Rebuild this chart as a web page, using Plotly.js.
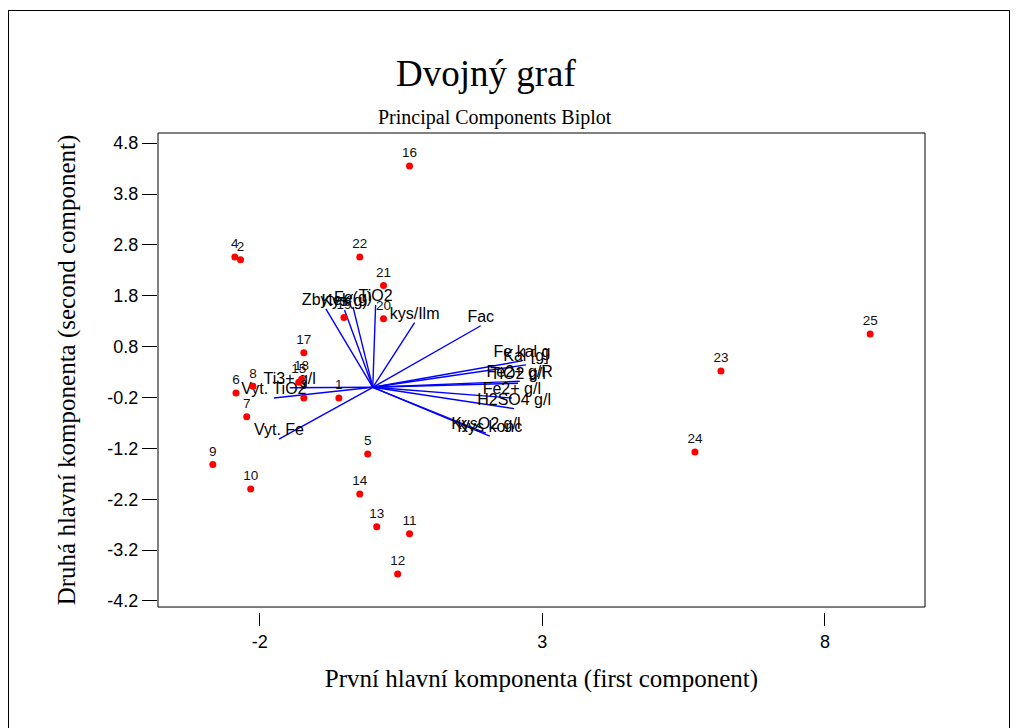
<!DOCTYPE html>
<html>
<head>
<meta charset="utf-8">
<script src="https://cdn.plot.ly/plotly-3.0.1.min.js"></script>
<style>
  html, body { margin: 0; padding: 0; background: #fff; }
  #wrap { position: relative; width: 1016px; height: 728px; overflow: hidden; }
  #chart { width: 1016px; height: 728px; }
  #border { position: absolute; left: 8px; top: 10px; width: 1002px; height: 740px;
            border: 1px solid #000; pointer-events: none; box-sizing: border-box; }
</style>
</head>
<body>
<div id="wrap">
  <div id="chart"></div>
  <div id="border"></div>
</div>
<script>
// Observation scores (first and second principal component)
const obsLabels = ["1","2","3","4","5","6","7","8","9","10","11","12","13","14","15","16","17","18","19","20","21","22","23","24","25"];
const obsPC1 = [-0.60,-2.34,-1.22,-2.44,-0.09,-2.42,-2.23,-2.12,-2.83,-2.16,0.65,0.44,0.07,-0.23,-1.31,0.65,-1.22,-1.26,-0.51,0.19,0.19,-0.23,6.16,5.70,8.80];
const obsPC2 = [-0.21,2.51,-0.21,2.56,-1.31,-0.11,-0.58,0.02,-1.52,-2.00,-2.88,-3.67,-2.74,-2.10,0.10,4.35,0.68,0.16,1.37,1.35,2.00,2.56,0.32,-1.27,1.05];

// Variable loadings (vector end points)
const varNames = ["Zbytek","Kys(g)","Fe(g)","TiO2","kys/Ilm","Fac","Fe kal g","Kal [g]","Fe2+ g/R","TiO2 g/l","Fe2+ g/l","H2SO4 g/l","Kys konc","KysO2 g/l","Ti3+ g/l","Vyt. TiO2","Vyt. Fe"];
const varPC1 = [-0.83,-0.50,-0.35,0.05,0.74,1.91,2.64,2.71,2.60,2.57,2.46,2.50,2.07,2.00,-1.47,-1.75,-1.66];
const varPC2 = [1.54,1.52,1.58,1.62,1.27,1.21,0.52,0.44,0.12,0.08,-0.21,-0.42,-0.96,-0.90,-0.01,-0.21,-1.02];

const xTicks = [-2, 3, 8];
const yTicks = [4.8, 3.8, 2.8, 1.8, 0.8, -0.2, -1.2, -2.2, -3.2, -4.2];

const vx = [], vy = [];
for (let i = 0; i < varNames.length; i++) {
  vx.push(0, varPC1[i], null);
  vy.push(0, varPC2[i], null);
}

const sans = '"Liberation Sans Narrow", "Liberation Sans", Arial, sans-serif';
const serif = '"Liberation Serif", "Times New Roman", serif';

const traces = [
  {
    type: 'scatter', mode: 'lines', x: vx, y: vy,
    line: { color: '#0000ff', width: 1.4 }, hoverinfo: 'skip', showlegend: false
  },
  {
    type: 'scatter', mode: 'text', x: varPC1, y: varPC2, text: varNames,
    textposition: 'top center', textfont: { family: sans, size: 16, color: '#000' },
    showlegend: false, cliponaxis: false
  },
  {
    type: 'scatter', mode: 'markers+text', x: obsPC1, y: obsPC2, text: obsLabels,
    textposition: 'top center', textfont: { family: sans, size: 13.5, color: '#111' },
    marker: { color: '#ff0000', size: 7 }, showlegend: false, cliponaxis: false
  }
];

const layout = {
  width: 1016, height: 728,
  margin: { l: 158, r: 91, t: 133, b: 116 },
  paper_bgcolor: '#fff', plot_bgcolor: '#fff',
  showlegend: false,
  xaxis: {
    range: [-3.8, 9.77], tickvals: xTicks, ticktext: xTicks.map(String),
    ticks: 'outside', ticklen: 13, tickwidth: 1, tickcolor: '#000',
    showgrid: false, zeroline: false, showline: false,
    anchor: 'free', position: 0,
    tickfont: { family: sans, size: 18, color: '#000' },
    title: { text: 'První hlavní komponenta (first component)', font: { family: serif, size: 25, color: '#000' }, standoff: 18 }
  },
  yaxis: {
    range: [-4.32, 5.0], domain: [0.0104, 1], tickvals: yTicks, ticktext: yTicks.map(v => v.toFixed(1)),
    ticks: 'outside', ticklen: 15, tickwidth: 1, tickcolor: '#000',
    showgrid: false, zeroline: false, showline: false,
    tickfont: { family: sans, size: 18, color: '#000' },
    title: { text: 'Druhá hlavní komponenta (second component)', font: { family: serif, size: 25, color: '#000' }, standoff: 24 }
  },
  shapes: [
    { type: 'rect', xref: 'x domain', yref: 'y domain', x0: 0, x1: 1, y0: 0, y1: 1,
      line: { color: '#000', width: 1 }, fillcolor: 'rgba(0,0,0,0)' }
  ],
  annotations: [
    { text: 'Dvojný graf', xref: 'paper', yref: 'paper', x: 0.427, y: 1, yshift: 60,
      xanchor: 'center', yanchor: 'middle', showarrow: false,
      font: { family: serif, size: 37, color: '#000' } },
    { text: 'Principal Components Biplot', xref: 'paper', yref: 'paper', x: 0.44, y: 1, yshift: 16,
      xanchor: 'center', yanchor: 'middle', showarrow: false,
      font: { family: serif, size: 20, color: '#000' } }
  ]
};

Plotly.newPlot('chart', traces, layout, { displayModeBar: false, staticPlot: true });
</script>
</body>
</html>
